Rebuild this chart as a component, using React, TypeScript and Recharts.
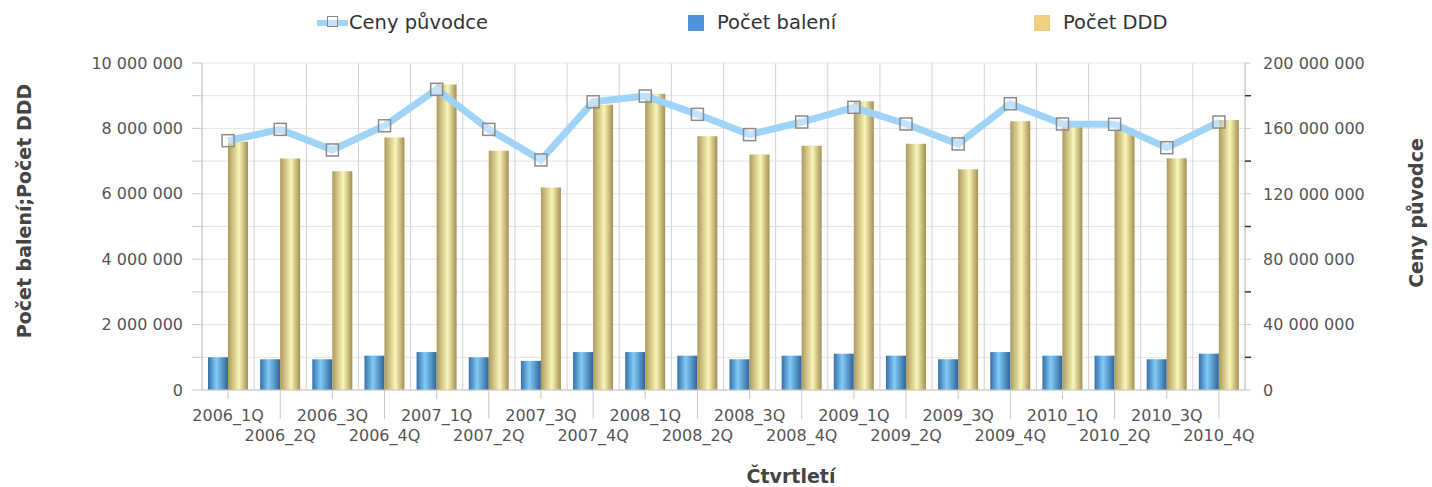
import React from "react";
import {
  ComposedChart,
  Bar,
  Line,
  XAxis,
  YAxis,
  CartesianGrid,
} from "recharts";

const quarters = [
  "2006_1Q", "2006_2Q", "2006_3Q", "2006_4Q",
  "2007_1Q", "2007_2Q", "2007_3Q", "2007_4Q",
  "2008_1Q", "2008_2Q", "2008_3Q", "2008_4Q",
  "2009_1Q", "2009_2Q", "2009_3Q", "2009_4Q",
  "2010_1Q", "2010_2Q", "2010_3Q", "2010_4Q",
];

const pocetBaleni = [
  1000000, 940000, 940000, 1050000, 1160000, 1000000, 890000, 1160000,
  1160000, 1050000, 940000, 1050000, 1110000, 1050000, 940000, 1160000,
  1050000, 1050000, 940000, 1110000,
];

const pocetDDD = [
  7590000, 7080000, 6690000, 7720000, 9340000, 7320000, 6190000, 8720000,
  9060000, 7760000, 7200000, 7470000, 8830000, 7530000, 6750000, 8220000,
  8070000, 7950000, 7090000, 8260000,
];

const cenyPuvodce = [
  152500000, 159400000, 146800000, 161600000, 183900000, 159400000, 140700000, 176300000,
  179800000, 168600000, 156200000, 163900000, 172900000, 162700000, 150500000, 175100000,
  162700000, 162500000, 148200000, 163900000,
];

const leftTicks = [0, 1, 2, 3, 4, 5, 6, 7, 8, 9, 10].map((v) => v * 1000000);
const rightTicks = [0, 1, 2, 3, 4, 5, 6, 7, 8, 9, 10].map((v) => v * 20000000);

const data = quarters.map((q, i) => ({
  q,
  baleni: pocetBaleni[i],
  ddd: pocetDDD[i],
  ceny: cenyPuvodce[i],
}));

const fmt = (v: number) => String(v).replace(/\B(?=(\d{3})+(?!\d))/g, " ");

const FONT = "'DejaVu Sans', Verdana, sans-serif";
const LINE_COLOR = "#9fd3f7";

// staggered category labels, odd ones drop to a second row
const QuarterTick = (props: any) => {
  const { x, y, payload, index } = props;
  const low = index % 2 === 1;
  return (
    <g>
      <line x1={x} x2={x} y1={y} y2={y + (low ? 29 : 9)} stroke="#c8c8c8" />
      <text
        x={x}
        y={y + (low ? 51 : 31)}
        textAnchor="middle"
        fontSize={16}
        fill="#555"
      >
        {payload.value}
      </text>
    </g>
  );
};

const RightTick = (props: any) => {
  const { x, y, payload } = props;
  const labelled = payload.value % 40000000 === 0;
  return (
    <g>
      <line x1={x} x2={x + 6} y1={y} y2={y} stroke={labelled ? "#c8c8c8" : "#333"} strokeWidth={labelled ? 1 : 1.5} />
      {labelled && (
        <text x={x + 18} y={y} dy="0.36em" fontSize={16} fill="#555">
          {fmt(payload.value)}
        </text>
      )}
    </g>
  );
};

const SquareDot = (props: any) => {
  const { cx, cy } = props;
  if (cx == null || cy == null) return null;
  return (
    <rect
      x={cx - 6}
      y={cy - 6}
      width={12}
      height={12}
      fill="rgba(255,255,255,0.35)"
      stroke="#8a8a8a"
      strokeWidth={1.5}
    />
  );
};

const App = () => {
  return (
    <div
      style={{
        position: "absolute",
        left: 0,
        top: 0,
        width: 1432,
        height: 487,
        background: "#fff",
        fontFamily: FONT,
      }}
    >
      <ComposedChart
        width={1432}
        height={487}
        data={data}
        margin={{ top: 63, right: 0, bottom: 37, left: 0 }}
        barCategoryGap={6}
        barGap={0}
      >
        <defs>
          <linearGradient id="blueBar" x1="0" y1="0" x2="1" y2="0">
            <stop offset="0%" stopColor="#3470aa" />
            <stop offset="42%" stopColor="#82cbf6" />
            <stop offset="100%" stopColor="#2f6499" />
          </linearGradient>
          <linearGradient id="goldBar" x1="0" y1="0" x2="1" y2="0">
            <stop offset="0%" stopColor="#ad995d" />
            <stop offset="55%" stopColor="#f9f6b6" />
            <stop offset="100%" stopColor="#a38e53" />
          </linearGradient>
        </defs>
        <CartesianGrid yAxisId="left" stroke="#e3e3e3" vertical={false} />
        <CartesianGrid
          yAxisId="left"
          stroke="#d2d2d2"
          horizontal={false}
          verticalCoordinatesGenerator={({ offset }: any) =>
            quarters.concat("end").map((_, i) => offset.left + (i * offset.width) / quarters.length)
          }
        />
        <XAxis
          dataKey="q"
          interval={0}
          height={60}
          tickSize={0}
          tickMargin={0}
          tickLine={false}
          axisLine={{ stroke: "#c8c8c8" }}
          tick={<QuarterTick />}
        />
        <YAxis
          yAxisId="left"
          width={202}
          domain={[0, 10000000]}
          ticks={leftTicks}
          interval={0}
          tickFormatter={(v: number) => (v % 2000000 === 0 ? fmt(v) : "")}
          tickSize={10}
          tickMargin={9}
          tickLine={{ stroke: "#c8c8c8" }}
          axisLine={{ stroke: "#c8c8c8" }}
          tick={{ fontSize: 16, fill: "#555" }}
        />
        <YAxis
          yAxisId="right"
          orientation="right"
          width={187}
          domain={[0, 200000000]}
          ticks={rightTicks}
          interval={0}
          tickSize={0}
          tickMargin={0}
          tickLine={false}
          axisLine={{ stroke: "#c8c8c8" }}
          tick={<RightTick />}
        />
        <Bar yAxisId="left" dataKey="baleni" fill="url(#blueBar)" isAnimationActive={false} />
        <Bar yAxisId="left" dataKey="ddd" fill="url(#goldBar)" isAnimationActive={false} />
        <Line
          yAxisId="right"
          type="linear"
          dataKey="ceny"
          stroke={LINE_COLOR}
          strokeWidth={7}
          dot={<SquareDot />}
          activeDot={false}
          isAnimationActive={false}
        />
      </ComposedChart>

      {/* legend */}
      <div style={{ position: "absolute", left: 317, top: 20, width: 31, height: 6, background: LINE_COLOR }} />
      <div
        style={{
          position: "absolute",
          left: 327,
          top: 16,
          width: 11,
          height: 11,
          border: "1.5px solid #8a8a8a",
          background: "rgba(255,255,255,0.35)",
          boxSizing: "border-box",
        }}
      />
      <div style={{ position: "absolute", left: 349, top: 10, lineHeight: "26px", fontSize: 19.5, color: "#333" }}>
        Ceny původce
      </div>
      <div style={{ position: "absolute", left: 688, top: 15, width: 16, height: 16, background: "#4f92d8" }} />
      <div style={{ position: "absolute", left: 717, top: 10, lineHeight: "26px", fontSize: 19.5, color: "#333" }}>
        Počet balení
      </div>
      <div style={{ position: "absolute", left: 1034, top: 15, width: 16, height: 16, background: "#f0cf83" }} />
      <div style={{ position: "absolute", left: 1063, top: 10, lineHeight: "26px", fontSize: 19.5, color: "#333" }}>
        Počet DDD
      </div>

      {/* axis titles */}
      <div
        style={{
          position: "absolute",
          left: 24,
          top: 211,
          transform: "translate(-50%, -50%) rotate(-90deg)",
          whiteSpace: "nowrap",
          fontSize: 19,
          fontWeight: "bold",
          color: "#444",
        }}
      >
        Počet balení;Počet DDD
      </div>
      <div
        style={{
          position: "absolute",
          left: 1416,
          top: 213,
          transform: "translate(-50%, -50%) rotate(-90deg)",
          whiteSpace: "nowrap",
          fontSize: 19,
          fontWeight: "bold",
          color: "#444",
        }}
      >
        Ceny původce
      </div>
      <div
        style={{
          position: "absolute",
          left: 791,
          top: 476,
          transform: "translate(-50%, -50%)",
          whiteSpace: "nowrap",
          fontSize: 19,
          fontWeight: "bold",
          color: "#444",
        }}
      >
        Čtvrtletí
      </div>
    </div>
  );
};

export default App;
